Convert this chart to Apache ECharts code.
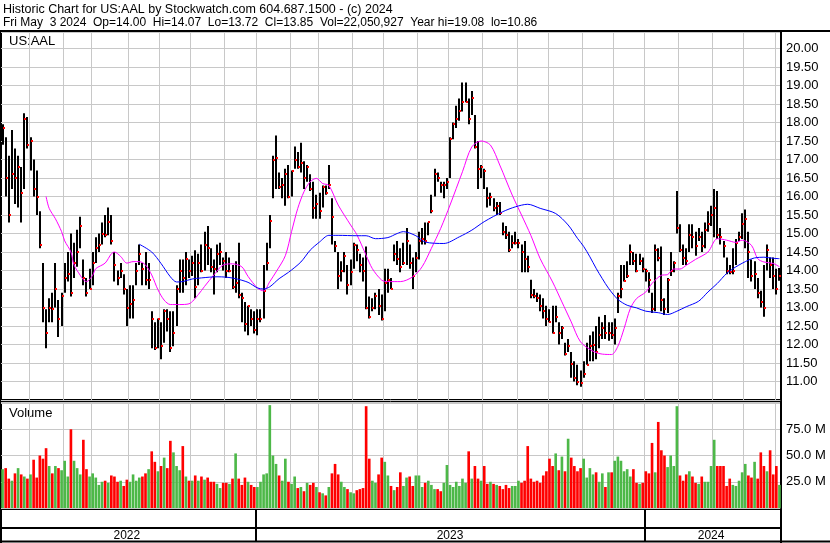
<!DOCTYPE html>
<html>
<head>
<meta charset="utf-8">
<title>Historic Chart for US:AAL</title>
<script src="https://cdn.jsdelivr.net/npm/echarts/dist/echarts.min.js"></script>
<style>
  html, body { margin: 0; padding: 0; background: #fff; }
  #chart { width: 830px; height: 543px; }
</style>
</head>
<body>
<div id="chart"></div>
<script>
// US:AAL, May 2022 - May 3 2024, one bar per two trading days
const highs = [
  17.95, 17.6, 17.1, 17.8, 17.3, 17.1, 16.8, 18.25, 18.15, 17.6,
  17.0, 16.7, 15.6, 14.2, 12.95, 13.25, 13.4, 14.2, 13.2, 13.4,
  14.2, 14.5, 15.0, 14.75, 15.1, 15.45, 14.3, 13.8, 14.05, 14.5,
  14.9, 15.0, 15.3, 15.5, 15.7, 15.5, 14.5, 14.0, 14.2, 13.9,
  13.5, 13.6, 13.6, 14.2, 14.7, 14.2, 14.5, 14.2, 12.9, 12.6,
  12.7, 12.6, 12.95, 12.95, 12.9, 12.9, 13.6, 14.3, 14.3, 14.5,
  14.3, 14.4, 14.55, 14.45, 14.7, 15.05, 15.2, 14.6, 14.3, 14.7,
  14.75, 14.35, 14.5, 14.35, 14.15, 14.25, 14.75, 13.4, 13.15, 13.05,
  12.95, 12.9, 12.95, 12.95, 14.15, 14.75, 15.5, 17.1, 17.65, 16.65,
  16.5, 16.75, 16.85, 16.7, 17.35, 17.2, 17.45, 16.95, 16.85, 16.6,
  16.4, 16.05, 16.1, 16.3, 16.3, 16.85, 15.95, 14.8, 14.5, 14.25,
  14.5, 14.15, 14.3, 14.75, 14.7, 14.45, 14.35, 14.65, 13.3, 13.25,
  13.4, 13.5, 13.35, 14.05, 14.05, 13.8, 14.7, 14.8, 14.6, 14.75,
  15.15, 14.7, 14.35, 14.5, 15.05, 15.15, 15.3, 15.3, 16.05, 16.75,
  16.65, 16.4, 16.4, 16.5, 17.6, 18.0, 18.45, 18.65, 19.08, 19.08,
  18.65, 18.85, 18.2, 17.5, 16.85, 16.75, 16.25, 16.1, 15.95, 15.85,
  15.85, 15.3, 15.2, 15.05, 14.95, 15.05, 14.85, 14.7, 14.8, 14.4,
  13.75, 13.5, 13.4, 13.35, 13.25, 13.05, 12.95, 13.05, 13.05, 12.6,
  12.5, 12.05, 12.15, 11.8, 11.55, 11.45, 11.3, 11.55, 12.05, 12.25,
  12.35, 12.5, 12.75, 12.6, 12.8, 12.6, 12.6, 12.7, 13.4, 14.15,
  14.15, 14.25, 14.7, 14.5, 14.45, 14.45, 14.35, 14.05, 13.95, 13.4,
  14.7, 14.6, 14.65, 13.25, 13.8, 14.5, 14.25, 16.15, 15.25, 14.7,
  14.6, 15.25, 15.25, 15.05, 15.15, 15.05, 15.3, 15.6, 15.75, 16.2,
  16.15, 15.15, 14.8, 14.35, 14.15, 14.6, 14.85, 15.05, 15.55, 15.65,
  15.05, 14.3, 14.25, 13.8, 13.45, 14.15, 14.7, 14.35, 14.35, 14.05, 14.07
];
const lows = [
  17.4, 16.0, 15.3, 16.2, 15.8, 15.7, 15.3, 16.2, 17.3, 16.7,
  16.0, 15.5, 14.6, 12.6, 11.9, 12.6, 12.6, 13.0, 12.2, 12.5,
  13.4, 13.7, 13.3, 13.8, 14.1, 14.6, 13.6, 13.3, 13.5, 13.6,
  14.2, 14.5, 14.7, 14.9, 14.95, 14.7, 13.7, 13.6, 13.8, 13.35,
  12.5, 12.7, 12.7, 13.6, 14.15, 13.6, 13.6, 13.5, 11.9, 11.85,
  11.9, 11.6, 12.05, 12.35, 11.8, 11.95, 12.5, 13.4, 13.4, 13.6,
  13.8, 13.85, 13.25, 13.6, 13.95, 14.0, 14.15, 13.95, 13.35, 13.95,
  14.15, 14.0, 13.8, 13.95, 13.5, 13.4, 13.25, 12.6, 12.35, 12.25,
  12.5, 12.3, 12.25, 12.6, 12.7, 14.0, 14.6, 15.95, 16.2, 16.2,
  15.95, 15.75, 15.95, 16.0, 16.75, 16.75, 16.65, 16.2, 16.4, 16.15,
  15.4, 15.4, 15.4, 15.7, 16.05, 16.2, 14.7, 14.5, 13.5, 13.7,
  13.95, 13.35, 13.6, 14.05, 14.25, 13.95, 13.7, 12.95, 12.7, 12.9,
  12.95, 12.8, 12.65, 12.9, 13.4, 13.5, 14.25, 14.15, 13.95, 14.15,
  14.15, 14.05, 13.5, 13.95, 14.3, 14.7, 14.7, 14.95, 15.55, 16.0,
  16.4, 16.1, 15.95, 16.2, 16.5, 17.55, 17.85, 18.05, 18.3, 18.55,
  17.95, 18.2, 17.3, 16.2, 16.5, 16.2, 15.7, 15.75, 15.6, 15.5,
  15.5, 14.95, 14.85, 14.5, 14.6, 14.7, 14.6, 13.95, 13.95, 13.95,
  13.25, 13.25, 13.15, 12.9, 12.7, 12.5, 12.6, 12.3, 12.6, 12.0,
  12.15, 11.7, 11.8, 11.1, 11.0, 10.9, 10.86, 11.1, 11.45, 11.55,
  11.55, 11.6, 11.9, 12.15, 12.15, 12.1, 12.15, 12.0, 12.85, 13.25,
  13.7, 13.8, 14.15, 14.15, 13.95, 14.15, 13.95, 13.7, 13.4, 12.85,
  12.9, 14.25, 12.9, 12.8, 12.85, 13.85, 13.95, 15.0, 14.5, 14.15,
  14.15, 14.5, 14.6, 14.4, 14.8, 14.5, 14.6, 15.05, 15.2, 14.9,
  14.85, 14.7, 14.35, 13.9, 13.9, 13.9, 14.15, 14.8, 14.85, 14.6,
  13.8, 13.7, 13.5, 13.25, 13.0, 12.75, 14.0, 13.8, 13.5, 13.35, 13.72
];
const closes = [
  17.85, 16.5, 15.5, 16.6, 16.5, 16.8, 16.1, 18.1, 17.4, 17.5,
  16.2, 16.0, 14.7, 13.0, 12.3, 13.0, 12.95, 13.5, 12.7, 13.3,
  13.8, 13.9, 13.4, 14.2, 14.5, 15.2, 13.8, 13.4, 13.5, 14.2,
  14.6, 14.7, 15.0, 14.95, 15.3, 14.8, 14.15, 13.8, 14.0, 13.5,
  13.0, 13.1, 13.2, 14.0, 14.45, 14.05, 13.75, 13.75, 12.7, 11.9,
  12.7, 11.95, 12.9, 12.7, 11.9, 12.3, 13.5, 14.0, 13.8, 14.3,
  14.0, 14.2, 13.55, 14.2, 14.0, 14.7, 14.6, 14.1, 14.05, 14.45,
  14.5, 14.25, 14.0, 14.0, 13.55, 13.65, 13.35, 13.25, 12.55, 13.05,
  12.7, 12.4, 12.7, 12.7, 13.45, 14.2, 15.35, 17.0, 17.05, 16.26,
  16.3, 16.6, 16.0, 16.7, 17.0, 16.8, 16.9, 16.5, 16.8, 16.2,
  15.7, 15.8, 15.6, 16.25, 16.1, 16.3, 15.45, 14.65, 13.85, 14.0,
  14.4, 13.6, 13.95, 14.7, 14.55, 14.15, 14.0, 13.0, 12.75, 13.0,
  13.3, 13.05, 12.7, 13.65, 13.75, 13.5, 14.45, 14.3, 14.1, 14.2,
  14.8, 14.2, 13.85, 14.35, 14.8, 14.85, 14.8, 15.3, 15.6, 16.6,
  16.5, 16.3, 16.3, 16.4, 17.55, 17.95, 18.1, 18.3, 18.55, 18.55,
  18.1, 18.65, 17.34, 16.75, 16.8, 16.7, 15.97, 16.0, 15.7, 15.75,
  15.55, 15.05, 14.95, 14.55, 14.75, 14.75, 14.75, 14.5, 14.3, 14.1,
  13.35, 13.3, 13.25, 13.05, 12.9, 12.7, 12.6, 12.3, 12.75, 12.3,
  12.45, 11.73, 11.95, 11.46, 11.1, 11.0, 10.95, 11.2, 11.45, 11.95,
  12.0, 11.8, 12.25, 12.45, 12.3, 12.3, 12.25, 12.45, 13.3, 13.5,
  13.72, 13.85, 14.5, 14.25, 14.0, 14.25, 14.05, 14.0, 13.75, 12.95,
  14.55, 14.35, 13.2, 12.95, 13.75, 14.0, 14.2, 15.15, 14.55, 14.35,
  14.25, 14.95, 14.9, 14.65, 14.9, 14.65, 15.1, 15.25, 15.5, 15.7,
  14.95, 14.9, 14.65, 14.0, 13.95, 14.0, 14.75, 14.9, 15.25, 15.4,
  14.5, 13.85, 13.9, 13.4, 13.15, 13.0, 14.55, 14.15, 13.85, 13.5, 13.85
];
// volume in millions of shares
const volumes = [
  37, 38, 28, 26, 33, 38, 32, 30, 28, 32,
  46, 29, 50, 47, 57, 40, 33, 40, 38, 36,
  45, 30, 75, 45, 38, 32, 65, 37, 30, 33,
  29, 22, 25, 26, 24, 31, 30, 25, 26, 21,
  27, 25, 32, 26, 29, 30, 33, 37, 54, 44,
  35, 40, 48, 38, 64, 53, 40, 36, 59, 30,
  26, 26, 31, 26, 30, 27, 29, 25, 25, 23,
  19, 24, 24, 23, 28, 52, 28, 22, 29, 25,
  22, 20, 20, 25, 32, 33, 98, 50, 42, 31,
  26, 47, 25, 23, 30, 19, 20, 16, 24, 22,
  24, 20, 15, 14, 12, 20, 33, 42, 32, 25,
  20, 18, 15, 14, 17, 18, 19, 97, 47, 26,
  24, 32, 48, 44, 31, 21, 17, 20, 34, 21,
  29, 30, 21, 31, 31, 20, 24, 26, 22, 18,
  18, 16, 24, 41, 22, 20, 25, 21, 28, 24,
  54, 28, 40, 28, 26, 40, 23, 25, 23, 22,
  21, 18, 22, 19, 21, 21, 26, 24, 26, 59,
  28, 25, 26, 24, 31, 35, 47, 40, 52, 36,
  49, 35, 66, 48, 40, 35, 38, 47, 29, 38,
  32, 34, 25, 33, 20, 34, 34, 45, 49, 45,
  35, 37, 30, 37, 24, 23, 24, 35, 33, 62,
  34, 82, 55, 50, 39, 50, 40, 97, 31, 26,
  32, 35, 30, 24, 23, 30, 25, 25, 40, 65,
  40, 40, 40, 21, 28, 22, 21, 26, 34, 42,
  31, 29, 44, 28, 53, 40, 35, 55, 32, 40, 22
];

// moving averages (bar index, value)
const maFastBars = [14, 15, 17, 19, 20, 22, 23, 25, 26, 27, 29, 30, 33, 35, 36, 38, 40, 42, 44, 46,
  48, 50, 52, 54, 57, 60, 63, 65, 68, 71, 74, 77, 79, 82, 84, 86, 88, 91, 93, 95,
  97, 99, 101, 103, 105, 108, 112, 114, 117, 119, 122, 124, 128, 132, 135, 138, 141, 144, 148, 151,
  154, 157, 160, 164, 167, 170, 173, 177, 180, 183, 186, 190, 193, 196, 198, 200, 202, 204, 207, 209,
  212, 214, 216, 218, 220, 223, 227, 230, 233, 236, 238, 241, 243, 245, 248, 250];
const maFast = [16.0, 15.68, 15.4, 15.05, 14.8, 14.5, 14.15, 13.87, 13.75, 13.7, 13.87, 14.05, 14.2, 14.45, 14.5, 14.38, 14.2, 14.24, 14.24, 14.15,
  13.88, 13.48, 13.2, 13.08, 13.08, 13.1, 13.35, 13.57, 13.88, 14.15, 14.18, 14.1, 13.84, 13.53, 13.45, 13.7, 13.96, 14.4, 15.05, 15.68,
  16.13, 16.4, 16.49, 16.35, 16.3, 15.77, 15.23, 14.97, 14.41, 14.05, 13.74, 13.7, 13.7, 13.83, 14.1, 14.6, 15.14, 15.77, 16.67, 17.34,
  17.5, 17.39, 16.85, 16.04, 15.5, 14.95, 14.32, 13.69, 13.15, 12.61, 12.07, 11.82, 11.74, 11.73, 11.95, 12.43, 12.97, 13.24, 13.42, 13.65,
  13.87, 13.89, 14.04, 14.04, 14.14, 14.3, 14.5, 14.86, 14.82, 14.76, 14.82, 14.68, 14.32, 14.23, 14.19, 14.1];
const maSlowBars = [44, 48, 51, 54, 56, 58, 61, 64, 69, 72, 75, 79, 82, 84, 86, 89, 92, 96, 99, 102,
  105, 108, 114, 117, 120, 124, 127, 129, 133, 136, 142, 147, 151, 155, 161, 165, 169, 173, 178, 182,
  185, 187, 189, 191, 193, 195, 198, 201, 204, 207, 211, 214, 217, 220, 224, 227, 230, 233, 236, 240,
  242, 245, 248, 250];
const maSlow = [14.71, 14.5, 14.19, 13.83, 13.69, 13.7, 13.77, 13.8, 13.83, 13.82, 13.78, 13.68, 13.53, 13.5, 13.56, 13.78, 13.95, 14.23, 14.55, 14.77,
  14.95, 14.95, 14.94, 14.94, 14.86, 14.89, 15.0, 15.05, 14.94, 14.77, 14.73, 14.91, 15.09, 15.32, 15.59, 15.72, 15.79, 15.68, 15.54, 15.23,
  14.87, 14.65, 14.37, 14.06, 13.78, 13.52, 13.22, 13.06, 12.99, 12.9, 12.86, 12.81, 12.9, 13.02, 13.17, 13.42, 13.65, 13.92, 14.1, 14.28,
  14.34, 14.36, 14.33, 14.32];

// first bar of each month (Jun 2022 .. May 2024) and of each year
const monthStartBar = [9, 20, 29, 41, 51, 61, 72, 82, 93, 102, 113, 123, 134, 144, 155, 166, 176, 187, 197, 207, 218, 229, 239, 249];
const years = ['2022', '2023', '2024'];
const yearStartBar = [0, 82, 207];

const titleLine1 = 'Historic Chart for US:AAL by Stockwatch.com 604.687.1500 - (c) 2024';
const titleLine2 = 'Fri May  3 2024  Op=14.00  Hi=14.07  Lo=13.72  Cl=13.85  Vol=22,050,927  Year hi=19.08  lo=10.86';

const FONT = '"Liberation Sans", Arial, sans-serif';
const GRID_LINE = '#c8c8c8';

const nBars = closes.length;
const categories = closes.map((c, i) => i);
const monthSet = new Set(monthStartBar);
const yearSet = new Set(yearStartBar.slice(1));
// year label sits in the middle of its span
const yearLabelAt = {};
yearStartBar.forEach((s, k) => {
  const e = k + 1 < yearStartBar.length ? yearStartBar[k + 1] : nBars;
  yearLabelAt[Math.floor((s + e - 1) / 2)] = years[k];
});

const priceData = closes.map((c, i) => [i, highs[i], lows[i], c]);
const volumeData = volumes.map((v, i) => ({
  value: v,
  itemStyle: { color: i > 0 && closes[i] < closes[i - 1] ? '#ff0000' : '#4db848' },
}));

function renderBar(params, api) {
  const i = api.value(0);
  const hi = api.coord([i, api.value(1)]);
  const lo = api.coord([i, api.value(2)]);
  const cl = api.coord([i, api.value(3)]);
  const x = Math.round(hi[0]);
  return {
    type: 'group',
    children: [
      {
        type: 'rect',
        shape: { x: x - 1, y: hi[1], width: 2, height: Math.max(lo[1] - hi[1], 1) },
        style: { fill: '#000' },
      },
      {
        type: 'rect',
        shape: { x: x, y: Math.round(cl[1]) - 1, width: 2, height: 2 },
        style: { fill: '#ff0000' },
      },
    ],
  };
}

function hLine(y, x1, x2, w) {
  return { type: 'line', silent: true, shape: { x1: x1, y1: y, x2: x2, y2: y }, style: { stroke: '#000', lineWidth: w } };
}
function vLine(x, y1, y2, w) {
  return { type: 'line', silent: true, shape: { x1: x, y1: y1, x2: x, y2: y2 }, style: { stroke: '#000', lineWidth: w } };
}
function label(text, x, y, size) {
  return { type: 'text', silent: true, x: x, y: y, style: { text: text, fill: '#000', font: size + 'px ' + FONT } };
}

const myChart = echarts.init(document.getElementById('chart'));
const option = {
  animation: false,
  backgroundColor: '#fff',
  grid: [
    { left: 1, right: 49, top: 32, height: 368 },   // price
    { left: 1, right: 49, top: 402, height: 106 },  // volume
    { left: 1, right: 49, top: 509, height: 32 },   // date band
  ],
  xAxis: [
    {
      type: 'category', gridIndex: 0, data: categories, boundaryGap: true,
      axisLine: { show: false }, axisTick: { show: false }, axisLabel: { show: false },
      splitLine: { show: true, interval: (i) => monthSet.has(i), lineStyle: { color: GRID_LINE } },
    },
    {
      type: 'category', gridIndex: 1, data: categories, boundaryGap: true,
      axisLine: { show: false }, axisTick: { show: false }, axisLabel: { show: false },
      splitLine: { show: true, interval: (i) => monthSet.has(i), lineStyle: { color: GRID_LINE } },
    },
    {
      type: 'category', gridIndex: 2, data: categories, boundaryGap: true,
      position: 'bottom', offset: -13,
      axisLine: { show: true, lineStyle: { color: '#000', width: 2 } },
      axisTick: { show: false },
      axisLabel: {
        show: true, interval: (i) => yearLabelAt[i] !== undefined,
        formatter: (v, i) => yearLabelAt[i] || '',
        margin: 2, color: '#000', fontSize: 12, fontFamily: FONT,
      },
      splitLine: { show: true, interval: (i) => yearSet.has(i), lineStyle: { color: '#000', width: 2 } },
    },
  ],
  yAxis: [
    {
      type: 'value', gridIndex: 0, position: 'right',
      min: 10.5, max: 20.446, interval: 0.5,
      axisLine: { show: true, lineStyle: { color: '#000', width: 2 } },
      axisTick: { show: false },
      axisLabel: {
        formatter: (v) => (v >= 11 && v <= 20 ? v.toFixed(2) : ''),
        color: '#000', fontSize: 13, fontFamily: FONT, margin: 5,
      },
      splitLine: { lineStyle: { color: GRID_LINE } },
    },
    {
      type: 'value', gridIndex: 1, position: 'right',
      min: 0, max: 101, interval: 25,
      axisLine: { show: true, lineStyle: { color: '#000', width: 2 } },
      axisTick: { show: false },
      axisLabel: {
        formatter: (v) => (v > 0 && v < 100 ? v.toFixed(1) + ' M' : ''),
        color: '#000', fontSize: 13, fontFamily: FONT, margin: 5,
      },
      splitLine: { lineStyle: { color: GRID_LINE } },
    },
    { type: 'value', gridIndex: 2, show: false },
  ],
  series: [
    {
      name: 'US:AAL', type: 'custom', xAxisIndex: 0, yAxisIndex: 0,
      renderItem: renderBar, encode: { x: 0, y: [1, 2] }, data: priceData, z: 2,
    },
    {
      name: 'MA fast', type: 'line', xAxisIndex: 0, yAxisIndex: 0,
      data: maFastBars.map((b, k) => [b, maFast[k]]),
      symbol: 'none', smooth: 0.3, lineStyle: { color: '#ff00ff', width: 1 }, z: 3,
    },
    {
      name: 'MA slow', type: 'line', xAxisIndex: 0, yAxisIndex: 0,
      data: maSlowBars.map((b, k) => [b, maSlow[k]]),
      symbol: 'none', smooth: 0.3, lineStyle: { color: '#0000ff', width: 1 }, z: 3,
    },
    {
      name: 'Volume', type: 'bar', xAxisIndex: 1, yAxisIndex: 1,
      data: volumeData, barCategoryGap: '15%',
    },
  ],
  graphic: [
    label(titleLine1, 3, 3, 12.5),
    label(titleLine2, 3, 17, 12),
    label('US:AAL', 9, 35, 13),
    label('Volume', 9, 407, 13),
    hLine(31, 0, 830, 2),
    vLine(1, 31, 543, 2),
    vLine(781, 31, 543, 2),
    hLine(399.5, 0, 781, 1),
    hLine(401.5, 0, 781, 1),
    hLine(509, 0, 781, 2),
    hLine(541.5, 0, 830, 2),
  ],
};
myChart.setOption(option);
window.addEventListener('resize', () => myChart.resize());
</script>
</body>
</html>
